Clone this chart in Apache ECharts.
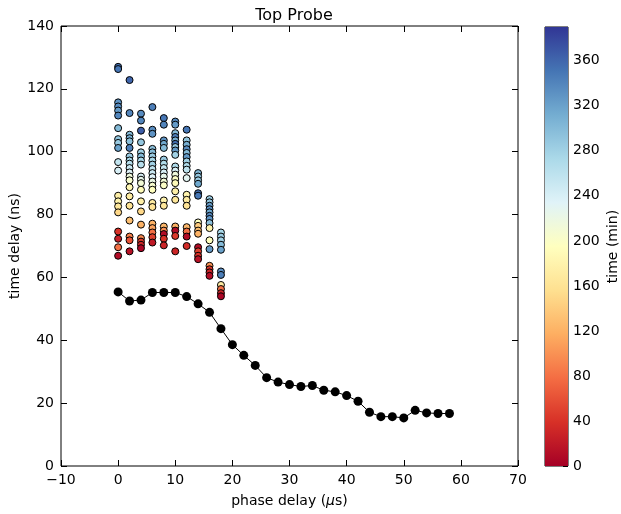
<!DOCTYPE html>
<html>
<head>
<meta charset="utf-8">
<script src="https://cdn.jsdelivr.net/npm/echarts@6/dist/echarts.min.js"></script>
<style>html,body{margin:0;padding:0;background:#fff}#c{width:621px;height:514px}</style>
</head>
<body>
<div id="c"></div>
<script>
// Phase delay columns of the coloured scatter
const columnPhase = [0, 2, 4, 6, 8, 10, 12, 14, 16, 18];
// time delay (ns) per column
const columnDelay = [
  [127, 126.3, 115.7, 114.4, 113.1, 111.5, 107.5, 104, 102.8, 101.2, 96.7, 94, 86, 84.2, 82.6, 80.7, 74.6, 72.3, 69.6, 66.9],
  [122.8, 112.3, 105.4, 104.3, 103.3, 101.2, 98.5, 97.2, 96.2, 94.8, 93.4, 92.1, 90.9, 88.7, 85.8, 82.8, 78.1, 73, 71.8, 68.3],
  [112.1, 109.9, 106.7, 103, 99.8, 98.5, 97.2, 95.9, 92.1, 91.1, 90, 87.9, 84.2, 81, 76.8, 72.5, 71.4, 70.4, 69.3],
  [114.2, 107, 105.7, 100.9, 99.8, 98.5, 97.2, 95.9, 94.5, 93.2, 91.9, 90.5, 89.2, 87.9, 83.7, 82.4, 77.1, 75.7, 74.3, 72.8, 71.1],
  [110.7, 108.6, 103.6, 102.5, 101.2, 97.5, 96.2, 94.8, 93.4, 92.1, 90.5, 89.3, 84.5, 82.8, 76.2, 74.9, 73.8, 72.3, 70.2],
  [109.6, 108.6, 105.9, 104.7, 103.6, 102.5, 101.5, 100.4, 99, 95.3, 94, 92.7, 91.3, 90, 87.4, 84.7, 76.2, 74.9, 73.2, 68.3],
  [107, 103.6, 102.2, 100.8, 99.6, 98.3, 96.9, 95.5, 94.3, 91.6, 86.3, 84.7, 82.8, 76, 74.6, 73, 70],
  [93.2, 92.1, 90.9, 89.8, 86.8, 86, 77.5, 76.4, 74.9, 73.9, 69.6, 68.3, 66.9, 65.8],
  [84.9, 83.9, 82.8, 81.7, 80.7, 79.6, 78.6, 77.3, 75.7, 71.8, 69, 63.7, 62.6, 61.6, 60.5],
  [74.3, 73, 71.8, 70.4, 68.8, 61.9, 60.8, 57.6, 56.3, 55, 54]
];
// measurement time (min) per point
const columnTime = [
  [355, 350, 330, 335, 325, 340, 300, 290, 285, 320, 255, 240, 175, 180, 165, 150, 40, 25, 80, 10],
  [360, 340, 300, 310, 295, 345, 285, 275, 265, 250, 235, 215, 205, 185, 170, 160, 130, 90, 60, 15],
  [335, 340, 365, 290, 280, 300, 275, 265, 240, 225, 210, 190, 175, 150, 120, 95, 45, 30, 5],
  [345, 335, 330, 295, 300, 285, 275, 280, 260, 250, 235, 220, 205, 195, 170, 160, 120, 110, 80, 50, 20],
  [350, 340, 330, 315, 300, 285, 270, 255, 240, 225, 210, 200, 180, 165, 125, 100, 10, 40, 30],
  [335, 325, 300, 345, 310, 355, 290, 325, 280, 270, 240, 215, 200, 190, 175, 165, 120, 10, 45, 30],
  [350, 290, 310, 335, 300, 325, 280, 270, 260, 230, 180, 170, 160, 125, 80, 10, 35],
  [305, 290, 285, 315, 355, 350, 195, 140, 130, 120, 10, 50, 40, 15],
  [285, 290, 325, 335, 315, 340, 330, 295, 180, 195, 325, 100, 40, 30, 10],
  [275, 285, 280, 300, 320, 335, 345, 170, 80, 30, 5]
];
// Black mean line
const linePhase = [0,2,4,6,8,10,12,14,16,18,20,22,24,26,28,30,32,34,36,38,40,42,44,46,48,50,52,54,56,58];
const lineDelay = [55.4, 52.5, 52.8, 55.2, 55.2, 55.2, 53.9, 51.6, 48.9, 43.7, 38.6, 35.2, 32.0, 28.1, 26.7, 25.9, 25.3, 25.6, 24.1, 23.6, 22.4, 20.6, 17.1, 15.7, 15.7, 15.3, 17.7, 16.9, 16.7, 16.7];
// Colour scale
const timeMin = 0, timeMax = 390;
const rdYlBu = ['#a50026','#d73027','#f46d43','#fdae61','#fee090','#ffffbf','#e0f3f8','#abd9e9','#74add1','#4575b4','#313695'];

const scatterData = [];
columnPhase.forEach((x, i) => {
  columnDelay[i].forEach((y, j) => scatterData.push([x, y, columnTime[i][j]]));
});

const font = 'DejaVu Sans';
const minus = v => String(v).replace('-', '\u2212');
const tickInside = {show: true, inside: true, length: 6, lineStyle: {color: '#000'}};
const noLine = {show: false, onZero: false};
const chart = echarts.init(document.getElementById('c'), null, {renderer: 'canvas'});
chart.setOption({
  animation: false,
  textStyle: {fontFamily: font, color: '#000'},
  title: {
    text: 'Top Probe', left: 289, top: 3, textAlign: 'center',
    textStyle: {fontFamily: font, fontSize: 16, fontWeight: 'normal', color: '#000'}
  },
  grid: [
    {left: 61, top: 26, width: 457, height: 440, show: true, borderColor: '#000', borderWidth: 1,
     backgroundColor: 'transparent', containLabel: false, outerBoundsMode: 'none'},
    {left: 545, top: 27, width: 23, height: 439, show: true, borderColor: '#000', borderWidth: 1,
     backgroundColor: 'transparent', containLabel: false, outerBoundsMode: 'none'}
  ],
  xAxis: [
    {gridIndex: 0, type: 'value', min: -10, max: 70, interval: 10,
     axisLine: noLine, axisTick: tickInside, splitLine: {show: false},
     axisLabel: {fontFamily: font, fontSize: 14, color: '#000', margin: 7, formatter: minus},
     name: 'phase delay ({i|μ}s)', nameLocation: 'middle', nameGap: 28, nameMoveOverlap: false,
     nameTextStyle: {fontFamily: font, fontSize: 14, color: '#000', rich: {i: {fontFamily: font, fontSize: 14, fontStyle: 'italic'}}}},
    {gridIndex: 0, type: 'value', min: -10, max: 70, interval: 10, position: 'top',
     axisLine: noLine, axisTick: tickInside, axisLabel: {show: false}, splitLine: {show: false}},
    {gridIndex: 1, type: 'category', data: ['c'], show: false}
  ],
  yAxis: [
    {gridIndex: 0, type: 'value', min: 0, max: 140, interval: 20,
     axisLine: noLine, axisTick: tickInside, splitLine: {show: false},
     axisLabel: {fontFamily: font, fontSize: 14, color: '#000', margin: 7},
     name: 'time delay (ns)', nameLocation: 'middle', nameGap: 39, nameRotate: 90, nameMoveOverlap: false,
     nameTextStyle: {fontFamily: font, fontSize: 14, color: '#000'}},
    {gridIndex: 0, type: 'value', min: 0, max: 140, interval: 20, position: 'right',
     axisLine: noLine, axisTick: tickInside, axisLabel: {show: false}, splitLine: {show: false}},
    {gridIndex: 1, type: 'value', min: timeMin, max: timeMax, interval: 40, position: 'right',
     axisLine: noLine, axisTick: {show: true, inside: true, length: 5, lineStyle: {color: '#000'}},
     splitLine: {show: false},
     axisLabel: {fontFamily: font, fontSize: 14, color: '#000', margin: 5, showMaxLabel: false},
     name: 'time (min)', nameLocation: 'middle', nameGap: 38, nameRotate: 90, nameMoveOverlap: false,
     nameTextStyle: {fontFamily: font, fontSize: 14, color: '#000'}}
  ],
  visualMap: {
    type: 'continuous', show: false, seriesIndex: 0, dimension: 2,
    min: timeMin, max: timeMax, inRange: {color: rdYlBu}
  },
  series: [
    {type: 'scatter', xAxisIndex: 0, yAxisIndex: 0, data: scatterData, symbolSize: 7,
     itemStyle: {borderColor: '#000', borderWidth: 1, opacity: 1}, z: 3},
    {type: 'line', xAxisIndex: 0, yAxisIndex: 0, data: linePhase.map((x, i) => [x, lineDelay[i]]),
     symbol: 'circle', symbolSize: 9, itemStyle: {color: '#000'}, lineStyle: {color: '#000', width: 1}, z: 4},
    {type: 'bar', xAxisIndex: 2, yAxisIndex: 2, data: [timeMax], barWidth: '100%',
     itemStyle: {color: new echarts.graphic.LinearGradient(0, 1, 0, 0,
       rdYlBu.map((c, i) => ({offset: i / (rdYlBu.length - 1), color: c})))}}
  ]
});
</script>
</body>
</html>
